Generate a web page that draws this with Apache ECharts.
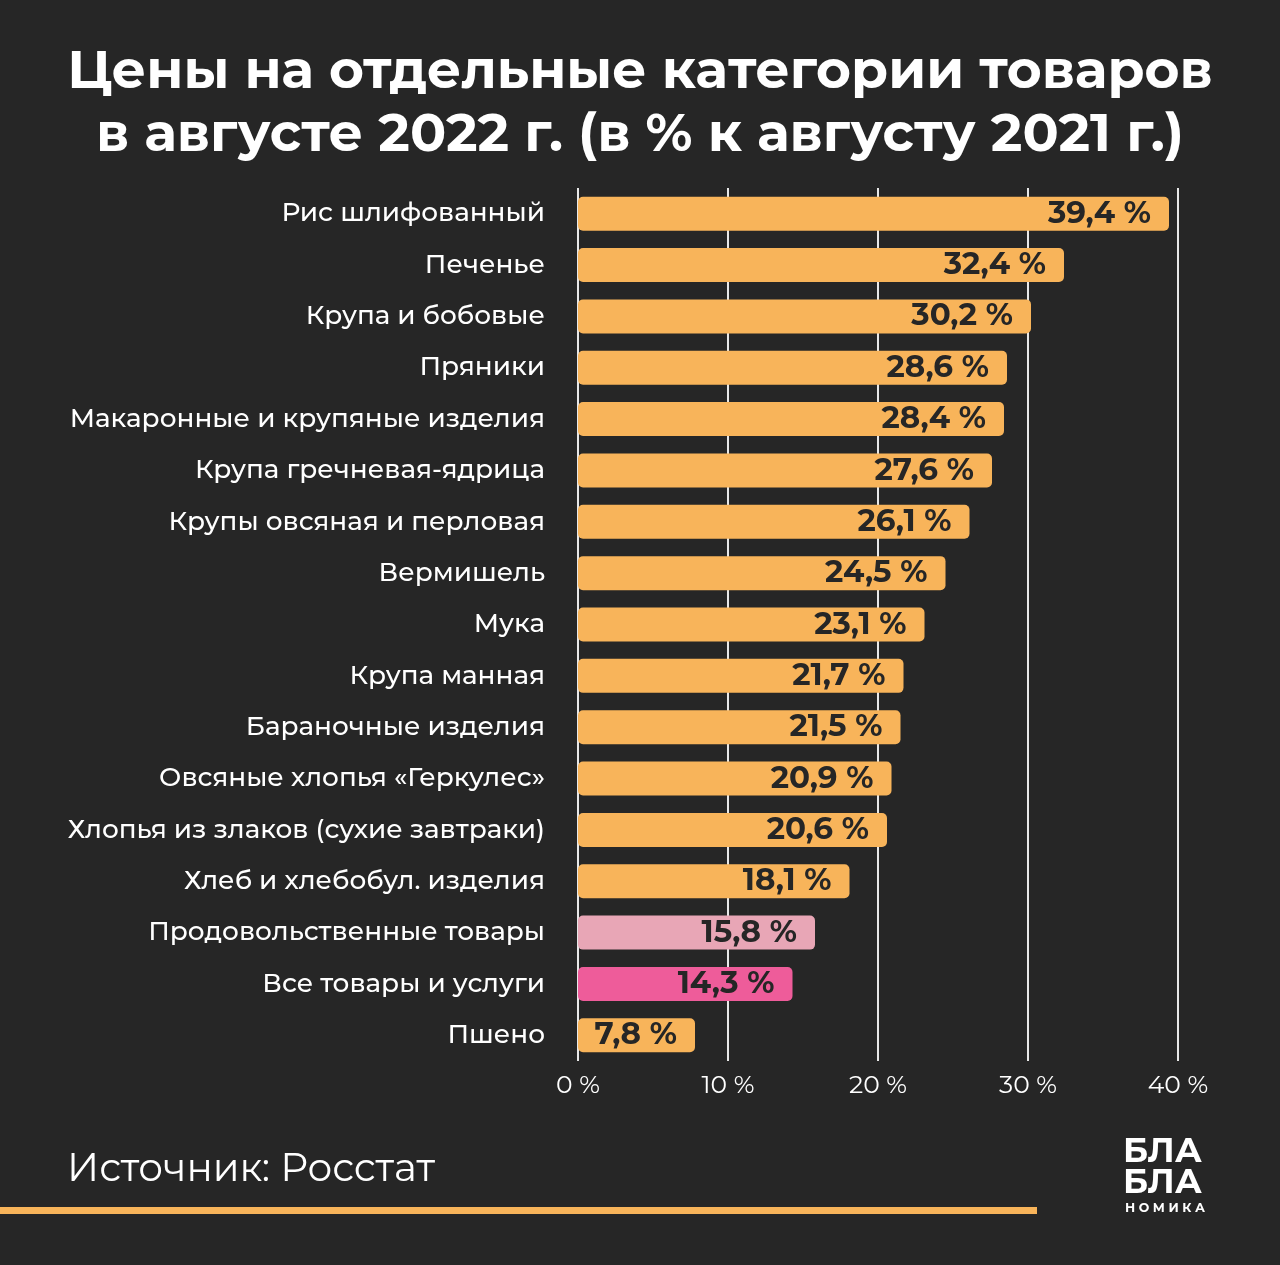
<!DOCTYPE html>
<html><head><meta charset="utf-8">
<script src="https://cdn.jsdelivr.net/npm/echarts@6/dist/echarts.min.js"></script>
<style>html,body{margin:0;padding:0;background:#262626;}#c{width:1280px;height:1265px;}</style>
</head><body><div id="c"></div>
<script>
const categories = ["Рис шлифованный","Печенье","Крупа и бобовые","Пряники","Макаронные и крупяные изделия","Крупа гречневая-ядрица","Крупы овсяная и перловая","Вермишель","Мука","Крупа манная","Бараночные изделия","Овсяные хлопья «Геркулес»","Хлопья из злаков (сухие завтраки)","Хлеб и хлебобул. изделия","Продовольственные товары","Все товары и услуги","Пшено"];
const values = [39.4,32.4,30.2,28.6,28.4,27.6,26.1,24.5,23.1,21.7,21.5,20.9,20.6,18.1,15.8,14.3,7.8];
const barColors = ["#F8B45A","#F8B45A","#F8B45A","#F8B45A","#F8B45A","#F8B45A","#F8B45A","#F8B45A","#F8B45A","#F8B45A","#F8B45A","#F8B45A","#F8B45A","#F8B45A","#E8A6B6","#EE5C9A","#F8B45A"];
const tickLabels = ["0 %","10 %","20 %","30 %","40 %"];
const titleLines = ["Цены на отдельные категории товаров","в августе 2022 г. (в % к августу 2021 г.)"];
const sourceText = "Источник: Росстат";

const font = "Montserrat, Inter, 'Noto Sans', sans-serif";
const chart = echarts.init(document.getElementById('c'));
chart.setOption({
  backgroundColor: '#262626',
  title: {
    text: titleLines.join('\n'), left: 'center', top: 36,
    textStyle: {color:'#fff', fontSize: 53.5, fontWeight: 'bold', fontFamily: font, lineHeight: 63}
  },
  grid: {left: 578, right: 102, top: 188, bottom: 204, containLabel: false},
  xAxis: {
    type: 'value', min: 0, max: 40, interval: 10,
    axisLine: {show: false}, axisTick: {show: false},
    splitLine: {show: true, lineStyle: {color: '#e8e8e8', width: 2}},
    axisLabel: {color: '#fff', fontSize: 25, fontFamily: font, margin: 12,
      formatter: (v) => tickLabels[Math.round(v/10)]}
  },
  yAxis: {
    type: 'category', data: categories, inverse: true,
    axisLine: {show: false}, axisTick: {show: false},
    axisLabel: {color: '#fff', fontSize: 26.3, fontFamily: font, margin: 33, fontWeight: 500}
  },
  series: [{
    type: 'bar', barWidth: 34,
    data: values.map((v,i) => ({value: v, itemStyle: {color: barColors[i], borderRadius: 5}})),
    label: {show: true, position: 'insideRight', distance: 18, color: '#262626',
      fontSize: 31, fontWeight: 'bold', fontFamily: font,
      formatter: (p) => String(p.value).replace('.', ',') + ' %'}
  }],
  graphic: [
    {type: 'text', left: 67, top: 1150, style: {text: sourceText, fill: '#fff', fontSize: 39, fontFamily: font}},
    {type: 'rect', shape: {x: 0, y: 1207, width: 1037, height: 7}, style: {fill: '#F8B45A'}},
    {type: 'text', left: 1123, top: 1135, style: {text: 'БЛА\nБЛА', fill: '#fff', fontSize: 34, fontWeight: 'bold', fontFamily: font, lineHeight: 31}},
    {type: 'text', left: 1125, top: 1202, style: {text: 'Н О М И К А', fill: '#fff', fontSize: 12.5, fontWeight: 'bold', fontFamily: font}}
  ]
});
</script></body></html>
